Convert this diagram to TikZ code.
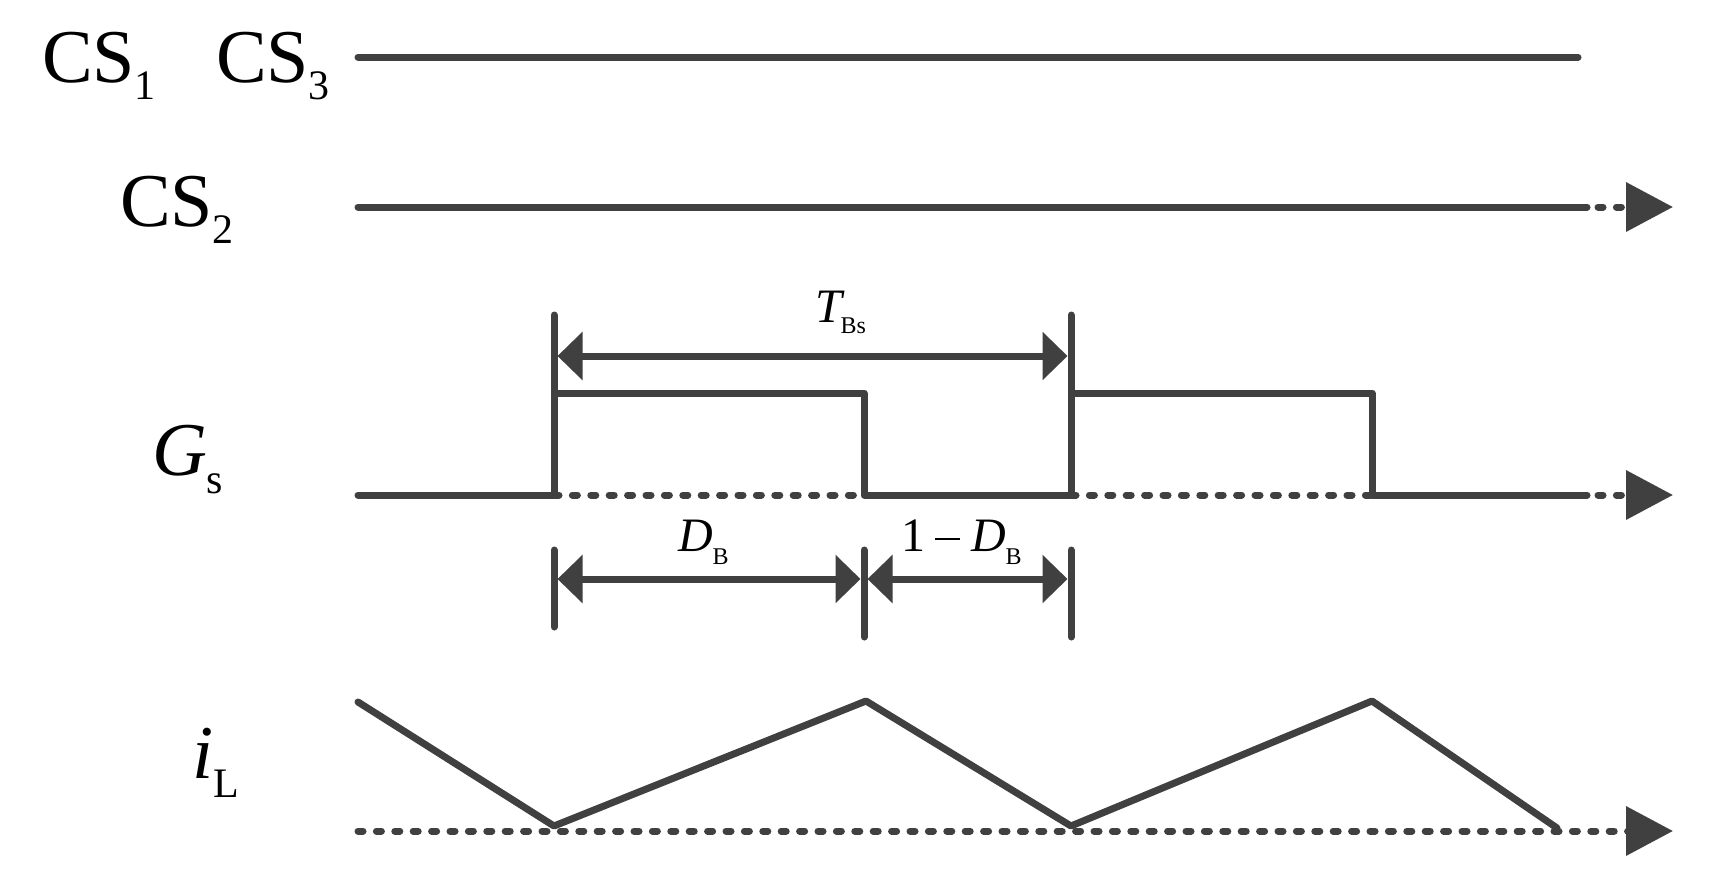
\documentclass[tikz,border=0pt]{standalone}
\usepackage{fontspec}
\setmainfont{Liberation Serif}
\usetikzlibrary{arrows.meta}
\definecolor{wave}{HTML}{404040}
\tikzset{
  wv/.style={draw=wave,line width=3.5pt,line cap=round,line join=round},
  dotl/.style={wv,dash pattern=on 2.5pt off 6.7pt},
  bigtip/.style={-{Triangle[length=23.5pt,width=24pt]}},
  dimtip/.style={{Triangle[length=12.5pt,width=23.5pt]}-{Triangle[length=12.5pt,width=23.5pt]}},
  lbl/.style={anchor=base west,inner sep=0pt,outer sep=0pt,text=black},
  bigfont/.style={font=\fontsize{38pt}{38pt}\selectfont},
  midfont/.style={font=\fontsize{24pt}{24pt}\selectfont},
}
\newcommand{\bsub}[2]{\raisebox{-#1}{\fontsize{21pt}{21pt}\selectfont #2}}
\newcommand{\ssub}[2]{\raisebox{-#1}{\fontsize{12pt}{12pt}\selectfont #2}}
\newcommand{\mysubtract}{\rule[5.4pt]{12.5pt}{1.3pt}}
\begin{document}
\begin{tikzpicture}[x=0.5pt,y=-0.5pt]
\useasboundingbox[fill=white] (0,0) rectangle (1720,895);

% ---- labels
\node[lbl,bigfont] (cs1) at (42,82) {CS\bsub{8.7pt}{1}};
\node[lbl,bigfont] (cs3) at (216,82) {CS\bsub{8.7pt}{3}};
\node[lbl,bigfont] (cs2) at (120,226) {CS\bsub{8.5pt}{2}};
\node[lbl,bigfont] (gs) at (152,475) {\textit{G}\bsub{9pt}{s}};
\node[lbl,bigfont] (il) at (192,778) {\textit{i}\bsub{9.5pt}{L}};
\node[lbl,midfont] (tbs) at (815,322) {\textit{T}\kern-2pt\ssub{5.7pt}{Bs}};
\node[lbl,midfont] (db) at (678,551) {\textit{D}\ssub{6.6pt}{B}};
\node[lbl,midfont] (odb) at (901,551) {1\kern5pt\mysubtract\kern5.5pt\textit{D}\ssub{6.6pt}{B}};

% ---- CS1 CS3
\coordinate (a0) at (358,57);
\coordinate (a1) at (1578,57);
\draw[wv] (a0) -- (a1);

% ---- CS2
\coordinate (b0) at (358,207);
\coordinate (b1) at (1587,207);
\coordinate (b2) at (1598,207);
\coordinate (b3) at (1673,207);
\draw[wv] (b0) -- (b1);
\draw[dotl,bigtip] (b2) -- (b3);

% ---- Gs
\coordinate (g0) at (358,495);
\coordinate (r1) at (554,495);
\coordinate (h1) at (554,393);
\coordinate (t1) at (554,315);
\coordinate (f1h) at (864,393);
\coordinate (f1) at (864,495);
\coordinate (r2) at (1071,495);
\coordinate (h2) at (1071,393);
\coordinate (t2) at (1071,315);
\coordinate (f2h) at (1372,393);
\coordinate (f2) at (1372,495);
\coordinate (g1) at (1587,495);
\coordinate (g2) at (1598,495);
\coordinate (g3) at (1673,495);
\draw[wv] (g0) -- (r1) -- (h1) -- (f1h) -- (f1) -- (r2) -- (h2) -- (f2h) -- (f2) -- (g1);
\draw[wv] (t1) -- (h1);
\draw[wv] (t2) -- (h2);
\draw[dotl] (r1) -- (f1);
\draw[dotl] (r2) -- (f2);
\draw[dotl,bigtip] (g2) -- (g3);

% ---- TBs dimension
\coordinate (tb0) at (557.5,356);
\coordinate (tb1) at (1067.5,356);
\draw[wv,line cap=butt,dimtip] (tb0) -- (tb1);

% ---- D dimension
\coordinate (d0t) at (554,550);
\coordinate (d0b) at (554,627);
\coordinate (d1t) at (864,550);
\coordinate (d1b) at (864,637);
\coordinate (d2t) at (1071,550);
\coordinate (d2b) at (1071,637);
\draw[wv] (d0t) -- (d0b);
\draw[wv] (d1t) -- (d1b);
\draw[wv] (d2t) -- (d2b);
\coordinate (da0) at (557.5,579);
\coordinate (da1) at (860.5,579);
\coordinate (da2) at (867.5,579);
\coordinate (da3) at (1067.5,579);
\draw[wv,line cap=butt,dimtip] (da0) -- (da1);
\draw[wv,line cap=butt,dimtip] (da2) -- (da3);

% ---- iL
\coordinate (i0) at (358,702);
\coordinate (i1) at (554,826);
\coordinate (i2) at (866,701);
\coordinate (i3) at (1071,826);
\coordinate (i4) at (1372,701);
\coordinate (i5) at (1557,828);
\draw[wv] (i0) -- (i1) -- (i2) -- (i3) -- (i4) -- (i5);
\coordinate (l0) at (358,831);
\coordinate (l1) at (1673,831);
\draw[dotl,bigtip] (l0) -- (l1);
\end{tikzpicture}
\end{document}
